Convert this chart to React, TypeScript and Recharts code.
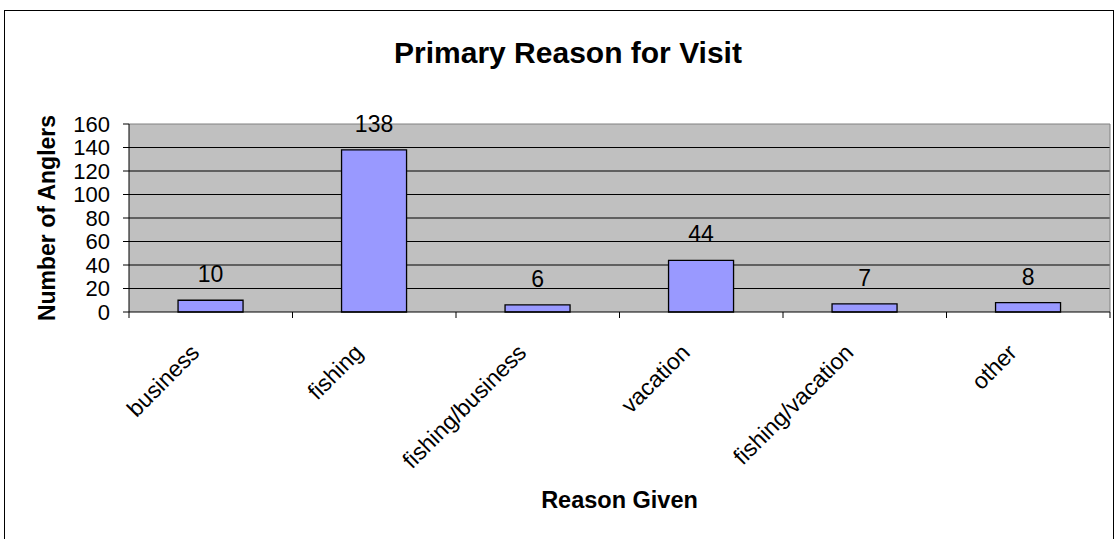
import React from 'react'
import {
  BarChart,
  Bar,
  XAxis,
  YAxis,
  CartesianGrid,
  LabelList,
  ReferenceLine,
} from 'recharts'

// ─── Data ─────────
const reasons = [
  'business',
  'fishing',
  'fishing/business',
  'vacation',
  'fishing/vacation',
  'other',
]
const anglers = [10, 138, 6, 44, 7, 8]
const yTicks = [0, 20, 40, 60, 80, 100, 120, 140, 160]
const gridValues = [20, 40, 60, 80, 100, 120, 140]

const data = reasons.map((name, i) => ({ name, value: anglers[i] }))

const FONT = '"Liberation Sans", Arial, sans-serif'

// x tick: rotated label + tick marks at category boundaries (Excel style)
const XTick = (props: any) => {
  const { x, y, payload, index, visibleTicksCount } = props
  const half = payload && typeof payload.offset === 'number' ? payload.offset : 81.75
  const axisY = y - 6
  const tx = x - 10
  const ty = y + 36
  const last = index === (visibleTicksCount ?? reasons.length) - 1
  return (
    <g>
      <line x1={x - half} x2={x - half} y1={axisY} y2={axisY + 6} stroke="#000" />
      {last && <line x1={x + half} x2={x + half} y1={axisY} y2={axisY + 6} stroke="#000" />}
      <text
        x={tx}
        y={ty}
        transform={`rotate(-45 ${tx} ${ty})`}
        textAnchor="end"
        fill="#000"
        fontSize={23}
        fontFamily={FONT}
      >
        {payload.value}
      </text>
    </g>
  )
}

const YTick = (props: any) => {
  const { y, payload } = props
  return (
    <text
      x={110}
      y={y}
      dy="0.355em"
      textAnchor="end"
      fill="#000"
      fontSize={22}
      fontFamily={FONT}
    >
      {payload.value}
    </text>
  )
}

const YTitle = (props: any) => {
  const vb = props.viewBox || { y: 124, height: 188 }
  const cx = 55
  const cy = vb.y + vb.height / 2
  return (
    <text
      x={cx}
      y={cy}
      transform={`rotate(-90 ${cx} ${cy})`}
      textAnchor="middle"
      fontSize={23}
      fontWeight="bold"
      fontFamily={FONT}
      fill="#000"
    >
      Number of Anglers
    </text>
  )
}

const XTitle = (props: any) => {
  const vb = props.viewBox || { x: 129, width: 981 }
  return (
    <text
      x={vb.x + vb.width / 2}
      y={508}
      textAnchor="middle"
      fontSize={23.5}
      fontWeight="bold"
      fontFamily={FONT}
      fill="#000"
    >
      Reason Given
    </text>
  )
}

export default function App() {
  return (
    <div
      style={{
        position: 'absolute',
        left: 0,
        top: 0,
        width: 1118,
        height: 539,
        overflow: 'hidden',
        background: '#fff',
        fontFamily: FONT,
      }}
    >
      <div
        style={{
          position: 'absolute',
          left: 4,
          top: 10,
          width: 1110,
          height: 600,
          border: '1px solid #000',
          boxSizing: 'border-box',
        }}
      />
      <svg width={1118} height={80} style={{ position: 'absolute', left: 0, top: 0 }}>
        <text
          x={568}
          y={63}
          textAnchor="middle"
          fontSize={30}
          fontWeight="bold"
          fontFamily={FONT}
          fill="#000"
        >
          Primary Reason for Visit
        </text>
      </svg>
      <div style={{ position: 'absolute', left: 0, top: 0 }}>
        <BarChart
          width={1118}
          height={539}
          data={data}
          margin={{ top: 124, right: 8, bottom: 0, left: 0 }}
          barCategoryGap="30%"
        >
          <CartesianGrid
            vertical={false}
            horizontalValues={gridValues}
            stroke="#000"
            fill="#C0C0C0"
            fillOpacity={1}
          />
          <XAxis
            dataKey="name"
            height={227}
            interval={0}
            tickSize={6}
            tickMargin={0}
            tickLine={false}
            axisLine={{ stroke: '#000' }}
            tick={<XTick />}
            label={{ content: <XTitle /> }}
          />
          <YAxis
            domain={[0, 160]}
            ticks={yTicks}
            interval={0}
            width={129}
            tickSize={6}
            axisLine={{ stroke: '#000' }}
            tickLine={{ stroke: '#000' }}
            tick={<YTick />}
            label={{ content: <YTitle /> }}
          />
          <ReferenceLine y={160} stroke="#808080" />
          <ReferenceLine x={reasons[reasons.length - 1]} position="end" stroke="#808080" />
          <Bar
            dataKey="value"
            fill="#9999FF"
            stroke="#000"
            strokeWidth={1.3}
            isAnimationActive={false}
          >
            <LabelList
              dataKey="value"
              position="top"
              offset={18}
              fill="#000"
              fontSize={23}
              fontFamily={FONT}
            />
          </Bar>
        </BarChart>
      </div>
    </div>
  )
}
